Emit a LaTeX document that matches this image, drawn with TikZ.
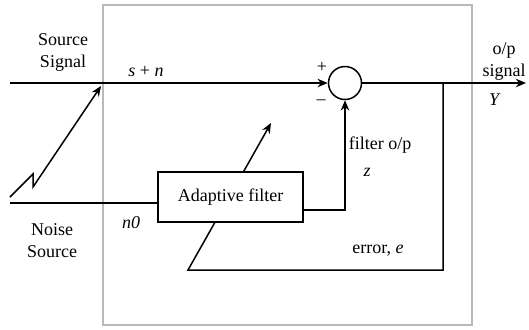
\documentclass[tikz,border=0pt]{standalone}
\usepackage{fontspec}
\setmainfont{Liberation Serif}
\usetikzlibrary{arrows.meta,positioning,calc}
\tikzset{
  % signal lines
  sigln/.style={line width=0.75pt, black},
  sigarr/.style={sigln, -{Stealth[length=1.8mm,width=1.5mm]}},
  % frame round the canceller
  framebox/.style={draw=gray!55, line width=0.6pt},
  % blocks
  filterbox/.style={draw, fill=white, line width=0.75pt, minimum width=72.5pt, minimum height=25pt,
    inner sep=0pt, font=\small},
  sumnode/.style={draw, circle, line width=0.75pt, minimum size=16.5pt, inner sep=0pt},
  lbl/.style={font=\small, inner sep=0pt, align=center},
}
\begin{document}
\begin{tikzpicture}[x=0.5pt, y=-0.5pt]
    \useasboundingbox (0,0) rectangle (529,329);
    % outer frame
    \draw[framebox] (103,5) rectangle (472,325);
    % helper points
    \coordinate (src) at (10,83);
    \coordinate (out) at (526,83);
    \coordinate (tap) at (443,83);
    \coordinate (errc) at (443,270);
    \coordinate (errl) at (188,270);
    \coordinate (adapt) at (271,123);
    \coordinate (nzin) at (10,203);
    \coordinate (zzA) at (10,197);
    \coordinate (zzB) at (33,174);
    \coordinate (zzC) at (33,187);
    \coordinate (inj) at (101,86);
    % error feedback (runs behind the filter block)
    \draw[sigarr] (tap) -- (errc) -- (errl) -- (adapt);
    % blocks
    \node[sumnode] (sum) at (345,83) {};
    \node[filterbox] (af) at (230.5,197) {Adaptive filter};
    \coordinate (afin) at (af.west |- nzin);
    \coordinate (afout) at ([yshift=-6.5pt]af.east);
    \coordinate (zc) at (sum.south |- afout);
    % main path
    \draw[sigarr] (src) -- (sum.west);
    \draw[sigarr] (sum.east) -- (out);
    % noise into the signal
    \draw[sigarr] (zzA) -- (zzB) -- (zzC) -- (inj);
    % reference noise to the filter
    \draw[sigln] (nzin) -- (afin);
    % filter output
    \draw[sigarr] (afout) -- (zc) -- (sum.south);
    % labels
    \node[lbl] (lsrc) at (63,52) {Source\\Signal};
    \node[lbl] (lnz) at (52,241) {Noise\\Source};
    \node[lbl] (lsn) at (146,71) {\textit{s} + \textit{n}};
    \node[lbl] (lplus) at (322,67) {+};
    \node[lbl] (lminus) at (321,102) {--};
    \node[lbl] (lop) at (504,61) {o/p\\signal};
    \node[lbl] (lY) at (495,100) {\textit{Y}};
    \node[lbl] (lfo) at (380,145) {filter o/p};
    \node[lbl] (lz) at (367,172) {\textit{z}};
    \node[lbl] (ln0) at (131,223) {\textit{n0}};
    \node[lbl] (lerr) at (378,251) {error, \textit{e}};
\end{tikzpicture}
\end{document}
